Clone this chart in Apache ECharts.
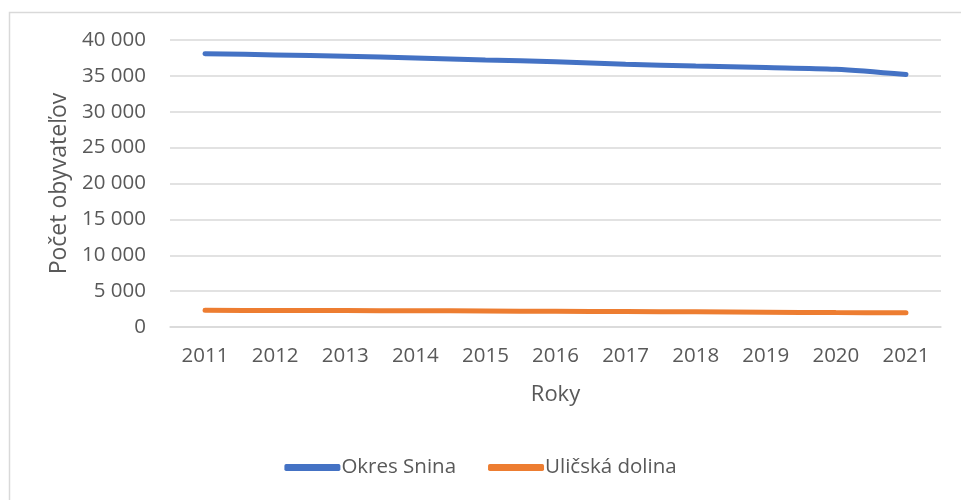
<!DOCTYPE html>
<html>
<head>
<meta charset="utf-8">
<script src="https://cdn.jsdelivr.net/npm/echarts@6/dist/echarts.min.js"></script>
<style>html,body{margin:0;padding:0;background:#fff}#c{width:961px;height:500px}</style>
</head>
<body>
<div id="c"></div>
<script>
const years = ['2011','2012','2013','2014','2015','2016','2017','2018','2019','2020','2021'];
const okresSnina = [38100, 37920, 37740, 37500, 37200, 36980, 36620, 36360, 36160, 35920, 35180];
const ulicskaDolina = [2330, 2300, 2290, 2270, 2230, 2190, 2150, 2110, 2060, 2010, 2000];
const seriesNames = ['Okres Snina', 'Uličská dolina'];
const colors = ['#4472C4', '#ED7D31'];

const font = 'Open Sans';
const chart = echarts.init(document.getElementById('c'));
chart.setOption({
  animation: false,
  color: colors,
  graphic: [{
    type: 'rect', left: 7, top: 10, shape: {width: 1000, height: 600},
    style: {fill: 'none', stroke: '#d9d9d9', lineWidth: 1.5}, silent: true
  }],
  grid: {left: 170, right: 20, top: 40, bottom: 173},
  legend: {
    bottom: 17, left: 'center', itemWidth: 56, itemHeight: 7, itemGap: 32,
    icon: 'roundRect',
    textStyle: {fontFamily: font, fontSize: 20.5, color: '#595959', padding: [0,0,0,-4]},
    data: seriesNames
  },
  xAxis: {
    type: 'category', data: years, boundaryGap: true,
    name: 'Roky', nameLocation: 'middle', nameGap: 57,
    nameTextStyle: {fontFamily: font, fontSize: 22, color: '#595959'},
    axisLine: {show: true, lineStyle: {color: '#d9d9d9', width: 1.5}},
    axisTick: {show: false},
    axisLabel: {fontFamily: font, fontSize: 20.5, color: '#595959', margin: 19}
  },
  yAxis: {
    type: 'value', min: 0, max: 40000, interval: 5000,
    name: 'Počet obyvateľov', nameLocation: 'middle', nameGap: 98, nameRotate: 90,
    nameTextStyle: {fontFamily: font, fontSize: 23, color: '#595959'},
    axisLine: {show: false}, axisTick: {show: false},
    splitLine: {lineStyle: {color: '#d9d9d9', width: 1.5}},
    axisLabel: {
      fontFamily: font, fontSize: 20.5, color: '#595959', margin: 24,
      formatter: v => String(v).replace(/\B(?=(\d{3})+(?!\d))/g, ' ')
    }
  },
  series: [
    {name: seriesNames[0], type: 'line', data: okresSnina, smooth: 0.3, symbol: 'none',
     lineStyle: {width: 5, cap: 'round', color: colors[0]}},
    {name: seriesNames[1], type: 'line', data: ulicskaDolina, smooth: 0.3, symbol: 'none',
     lineStyle: {width: 5, cap: 'round', color: colors[1]}}
  ]
});
</script>
</body>
</html>
